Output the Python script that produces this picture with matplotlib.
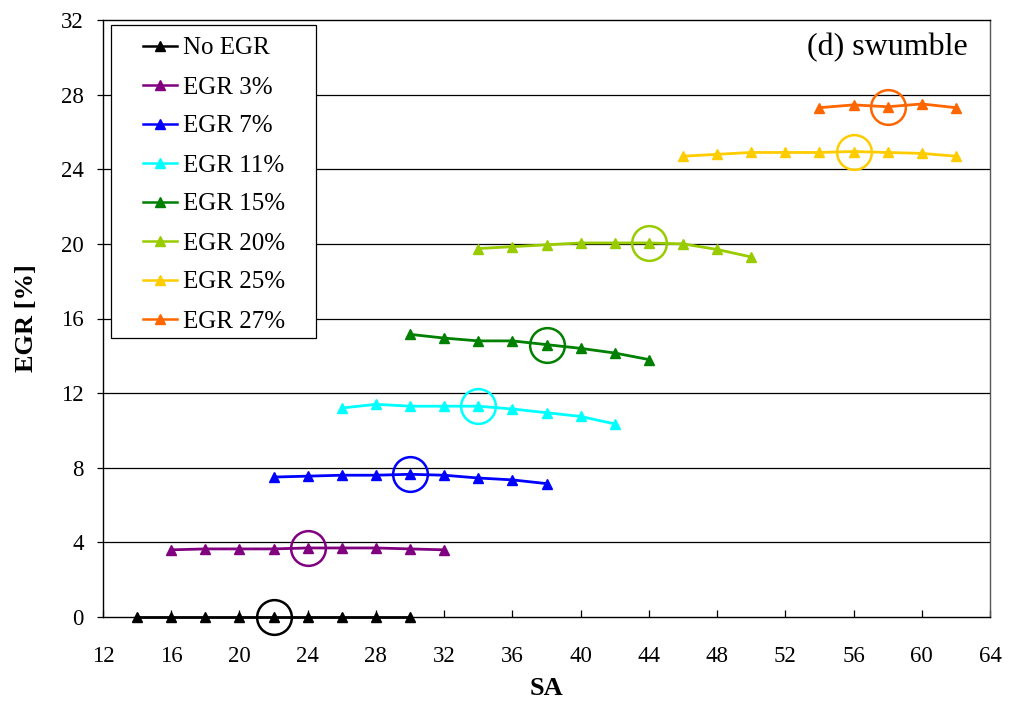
import matplotlib
matplotlib.use("Agg")
import matplotlib.pyplot as plt
from matplotlib.legend_handler import HandlerLine2D
from matplotlib.patches import Rectangle

plt.rcParams['font.family'] = ['Liberation Serif', 'DejaVu Serif']

labels = ["No EGR", "EGR 3%", "EGR 7%", "EGR 11%", "EGR 15%", "EGR 20%", "EGR 25%", "EGR 27%"]
colors = ["#000000", "#800080", "#0000FF", "#00FFFF", "#008000", "#99CC00", "#FFCC00", "#FF6600"]

sa_no_egr = [14, 16, 18, 20, 22, 24, 26, 28, 30]
egr_no_egr = [0, 0, 0, 0, 0, 0, 0, 0, 0]

sa_egr3 = [16, 18, 20, 22, 24, 26, 28, 30, 32]
egr_egr3 = [3.6, 3.65, 3.65, 3.65, 3.7, 3.7, 3.7, 3.65, 3.6]

sa_egr7 = [22, 24, 26, 28, 30, 32, 34, 36, 38]
egr_egr7 = [7.5, 7.55, 7.6, 7.6, 7.65, 7.6, 7.45, 7.35, 7.15]

sa_egr11 = [26, 28, 30, 32, 34, 36, 38, 40, 42]
egr_egr11 = [11.2, 11.4, 11.3, 11.3, 11.3, 11.15, 10.95, 10.75, 10.35]

sa_egr15 = [30, 32, 34, 36, 38, 40, 42, 44]
egr_egr15 = [15.15, 14.95, 14.8, 14.8, 14.6, 14.4, 14.15, 13.8]

sa_egr20 = [34, 36, 38, 40, 42, 44, 46, 48, 50]
egr_egr20 = [19.75, 19.85, 19.95, 20.05, 20.05, 20.05, 20.0, 19.7, 19.3]

sa_egr25 = [46, 48, 50, 52, 54, 56, 58, 60, 62]
egr_egr25 = [24.7, 24.8, 24.9, 24.9, 24.9, 24.95, 24.9, 24.85, 24.7]

sa_egr27 = [54, 56, 58, 60, 62]
egr_egr27 = [27.3, 27.45, 27.35, 27.5, 27.3]

# highlighted (optimal) spark advance for each series
sa_opt = [22, 24, 30, 34, 38, 44, 56, 58]

series = [
    (sa_no_egr, egr_no_egr), (sa_egr3, egr_egr3), (sa_egr7, egr_egr7),
    (sa_egr11, egr_egr11), (sa_egr15, egr_egr15), (sa_egr20, egr_egr20),
    (sa_egr25, egr_egr25), (sa_egr27, egr_egr27),
]

x_ticks = list(range(12, 65, 4))
y_ticks = list(range(0, 33, 4))


class ShortLineHandler(HandlerLine2D):
    """Legend line drawn only in the right part of the handle box."""

    def __init__(self, frac=0.5, **kw):
        super().__init__(**kw)
        self.frac = frac

    def create_artists(self, legend, orig_handle, xdescent, ydescent,
                       width, height, fontsize, trans):
        shift = width * self.frac
        return super().create_artists(legend, orig_handle, xdescent - shift,
                                      ydescent, width - shift, height,
                                      fontsize, trans)


fig = plt.figure(figsize=(10.10, 7.09), dpi=100)
ax = fig.add_axes([103 / 1010, 1 - 617 / 709, (990 - 103) / 1010, (617 - 20) / 709])

for y in y_ticks[1:-1]:
    ax.axhline(y, color="black", lw=0.9, zorder=1)

handles = []
for (xs, ys), c, lab, xo in zip(series, colors, labels, sa_opt):
    h, = ax.plot(xs, ys, color=c, lw=2.0, marker="^", markersize=7.5,
                 label=lab, zorder=3, clip_on=False)
    handles.append(h)
    yo = ys[xs.index(xo)]
    ax.plot([xo], [yo], marker="o", markersize=25, markerfacecolor="none",
            markeredgecolor=c, markeredgewidth=1.8, zorder=4, clip_on=False)

ax.set_xlim(12, 64)
ax.set_ylim(0, 32)
ax.set_xticks(x_ticks)
ax.set_yticks(y_ticks)
ax.tick_params(axis="x", direction="in", length=5, labelsize=16.5, pad=21, width=0.9)
ax.tick_params(axis="y", direction="out", length=4, labelsize=16.5, pad=10, width=0.9)
for s in ax.spines.values():
    s.set_linewidth(1.0)
ax.spines["right"].set_color("#555555")

ax.set_xlabel("SA", fontsize=19, fontweight="bold", labelpad=7)
ax.set_ylabel("EGR [%]", fontsize=19, fontweight="bold", labelpad=16)

ax.text(0.975, 1 - 28 / 597, "(d) swumble", transform=ax.transAxes, ha="right",
        va="center", fontsize=23)

# legend box drawn as its own patch so it can be wider than its content
box_x0, box_x1 = 8 / 887, 213 / 887
box_y0, box_y1 = 1 - 318 / 597, 1 - 5 / 597
ax.add_patch(Rectangle((box_x0, box_y0), box_x1 - box_x0, box_y1 - box_y0,
                       transform=ax.transAxes, facecolor="white",
                       edgecolor="black", lw=0.9, zorder=5))

leg = ax.legend(handles=handles, loc="upper left",
                bbox_to_anchor=(box_x0, box_y1 - 2 / 597),
                fontsize=18, frameon=False, handlelength=2.24,
                labelspacing=0.66, borderpad=0.4, handletextpad=0.24,
                borderaxespad=0,
                handler_map={h: ShortLineHandler(frac=0.39) for h in handles})
leg.set_zorder(6)
for h in leg.legend_handles:
    h.set_markersize(6.5)
    h.set_linewidth(1.8)

fig.savefig("out.png", dpi=100)
